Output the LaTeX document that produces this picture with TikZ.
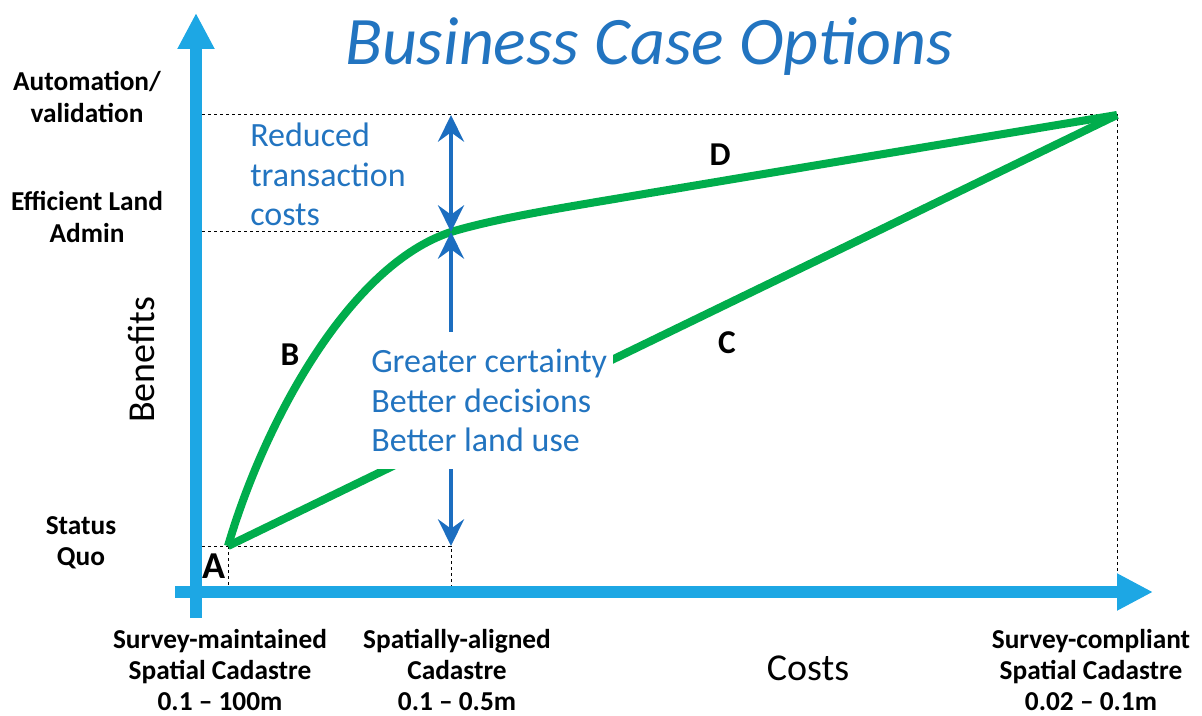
\documentclass[tikz,border=0pt]{standalone}
\usepackage{fontspec}
\setmainfont{Carlito}
\usetikzlibrary{arrows.meta}

\definecolor{axisblue}{RGB}{29,167,228}
\definecolor{curvegreen}{RGB}{0,173,76}
\definecolor{textblue}{RGB}{34,116,192}
\definecolor{arrowblue}{RGB}{28,110,192}

\tikzset{
	axisline/.style={draw=axisblue, line width=9pt, -{Triangle[width=26pt,length=27pt]}},
	guide/.style={draw=black, line width=0.75pt, dash pattern=on 2.5pt off 2pt},
	optline/.style={draw=curvegreen, line width=6pt},
	gain/.style={draw=arrowblue, line width=3pt, {Stealth[width=19.5pt,length=20pt,inset=7pt]}-{Stealth[width=19.5pt,length=20pt,inset=7pt]}},
	tier/.style={font=\bfseries\fontsize{20.5}{23.5}\selectfont, align=center, inner sep=0.75pt},
	benefit/.style={text=textblue, font=\fontsize{25.5}{29.5}\selectfont, align=left, inner sep=0.75pt},
	optlabel/.style={font=\bfseries\fontsize{25}{30}\selectfont, inner sep=0.75pt},
	axislabel/.style={font=\fontsize{28.5}{34}\selectfont, inner sep=0.75pt}
}

\begin{document}
\begin{tikzpicture}[x=0.75pt,y=0.75pt,yscale=-1,xscale=1]
	\useasboundingbox (0,0) rectangle (1202,716);
	% key points
	\coordinate (O) at (196,592);
	\coordinate (A) at (228,546);
	\coordinate (M) at (451,232);
	\coordinate (E) at (1117,115);
	\coordinate (ybot) at (196,618);
	\coordinate (ytop) at (196,13);
	\coordinate (xleft) at (175,592);
	\coordinate (xright) at (1153,592);
	% guides
	\draw[guide] (O |- E) -- (E) -- (E |- O);
	\draw[guide] (O |- M) -- (M);
	\draw[guide] (O |- A) -- (A -| M) -- (M |- O);
	\draw[guide] (A) -- (A |- O);
	% axes
	\draw[axisline] (ybot) -- (ytop);
	\draw[axisline] (xleft) -- (xright);
	% options
	\draw[optline] (A) -- (E);
	\draw[optline] (A) .. controls (265,420) and (350,265) .. (M) .. controls (500,217) and (580,205) .. (650,193) -- (E);
	% gains
	\draw[gain] (M) -- (M |- E);
	\draw[gain] (M) -- (M |- A);
	\node[benefit, fill=white, inner xsep=4.5pt, inner ysep=13pt, anchor=north west] (certainty) at (365,332) {Greater certainty\\Better decisions\\Better land use};
	\node[benefit, anchor=north west] (reduced) at (249,122) {Reduced\\transaction\\costs};
	% title
	\node[text=textblue, font=\itshape\fontsize{51}{60}\selectfont, inner sep=0.75pt] (title) at (649,46) {Business Case Options};
	% benefit levels
	\node[tier] (automation) at (87,97) {Automation/\\validation};
	\node[tier] (efficient) at (87,217) {Efficient Land\\Admin};
	\node[tier] (statusquo) at (81,543) {Status\\Quo};
	% cost levels
	\node[tier] (maintained) at (220,670) {Survey-maintained\\Spatial Cadastre\\0.1 -- 100m};
	\node[tier] (aligned) at (457,670) {Spatially-aligned\\Cadastre\\0.1 -- 0.5m};
	\node[tier] (compliant) at (1091,670) {Survey-compliant\\Spatial Cadastre\\0.02 -- 0.1m};
	% axis names
	\node[axislabel, rotate=90] (benefits) at (142,360) {Benefits};
	\node[axislabel] (costs) at (808,668) {Costs};
	% option letters
	\node[optlabel, font=\bfseries\fontsize{28.5}{34}\selectfont] (labA) at (214,566) {A};
	\node[optlabel] (labB) at (290,355) {B};
	\node[optlabel] (labC) at (727,343) {C};
	\node[optlabel] (labD) at (720,155) {D};
\end{tikzpicture}
\end{document}
